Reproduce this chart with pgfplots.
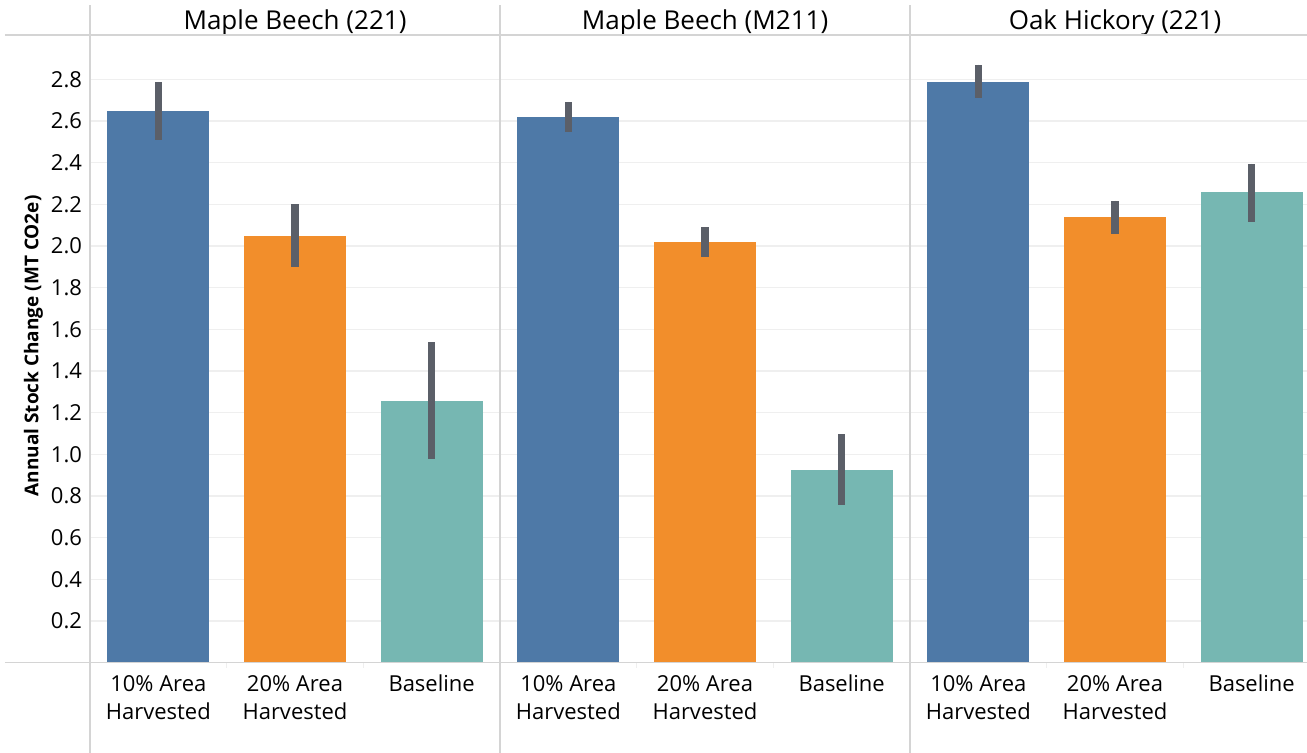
\documentclass[border=0pt]{standalone}
\usepackage{pgfplots}
\pgfplotsset{compat=1.18}
\usepackage{fontspec}
\setmainfont{Open Sans}
\definecolor{cblue}{HTML}{4E79A7}
\definecolor{corange}{HTML}{F28E2B}
\definecolor{cteal}{HTML}{76B7B2}
\definecolor{errgrey}{HTML}{5B5F68}
\definecolor{sepgrey}{HTML}{D4D4D4}
\definecolor{gridgrey}{HTML}{EFEFEF}
\pgfplotsset{
  panel/.style={
    scale only axis, width=205pt, height=313.85pt,
    ymin=0, ymax=3.013, xmin=-0.5, xmax=2.5,
    axis line style={draw=none},
    tick pos=left,
    major tick length=0pt,
    ytick={0.2,0.4,0.6,0.8,1.0,1.2,1.4,1.6,1.8,2.0,2.2,2.4,2.6,2.8},
    ymajorgrids, grid style={draw=gridgrey, line width=0.6pt},
    xtick={0,1,2},
    xticklabels={{10\% Area\\Harvested},{20\% Area\\Harvested},{Baseline}},
    xticklabel style={anchor=north, inner sep=0pt, yshift=-6pt, align=center, font=\fontsize{11}{14.3}\selectfont},
    yticklabel style={font=\fontsize{11}{13}\selectfont, xshift=-0.5pt},
    /pgf/number format/.cd, fixed, fixed zerofill, precision=1, assume math mode=true, /pgfplots/.cd,
    extra x ticks={0.5,1.5}, extra x tick labels={},
    extra x tick style={major tick length=2.5pt, tick align=outside, tick style={draw=gridgrey, line width=0.6pt}},
    every axis title/.style={anchor=base, at={(axis description cs:0.5,1)}, yshift=2.85pt, font=\fontsize{13}{15.5}\selectfont},
  },
  bar/.style={ybar, bar width=51pt, bar shift=0pt, draw=none, fill=#1,
    error bars/.cd, y dir=both, y explicit, error mark=none,
    error bar style={line width=3.8pt, draw=errgrey}},
}
\begin{document}
\begin{tikzpicture}
\useasboundingbox (-45pt,-45.15pt) rectangle (608.5pt,331.35pt);
\begin{axis}[panel, at={(0pt,0pt)}, anchor=south west,
  title={Maple Beech (221)},
  ylabel={Annual Stock Change (MT CO2e)},
  ylabel style={font=\bfseries\fontsize{9.5}{11}\selectfont, at={(axis description cs:-0.1261,0.5046)}, anchor=base}]
\addplot[bar=cblue] coordinates {(0,2.650) += (0,0.138) -= (0,0.142)};
\addplot[bar=corange] coordinates {(1,2.048) += (0,0.153) -= (0,0.147)};
\addplot[bar=cteal] coordinates {(2,1.258) += (0,0.280) -= (0,0.280)};
\end{axis}
\begin{axis}[panel, at={(205pt,0pt)}, anchor=south west,
  title={Maple Beech (M211)}, yticklabels={}]
\addplot[bar=cblue] coordinates {(0,2.617) += (0,0.075) -= (0,0.068)};
\addplot[bar=corange] coordinates {(1,2.020) += (0,0.070) -= (0,0.072)};
\addplot[bar=cteal] coordinates {(2,0.927) += (0,0.169) -= (0,0.170)};
\end{axis}
\begin{axis}[panel, at={(410pt,0pt)}, anchor=south west, width=198.5pt, xmax=2.405,
  title={Oak Hickory (221)}, title style={at={(axis description cs:0.5164,1)}}, yticklabels={}]
\addplot[bar=cblue] coordinates {(0,2.788) += (0,0.083) -= (0,0.078)};
\addplot[bar=corange] coordinates {(1,2.140) += (0,0.078) -= (0,0.082)};
\addplot[bar=cteal] coordinates {(2,2.260) += (0,0.136) -= (0,0.143)};
\end{axis}
\draw[sepgrey, line width=0.7pt] (-42.5pt,0pt) -- (608.5pt,0pt);
\draw[sepgrey, line width=0.7pt] (-42.5pt,313.85pt) -- (608.5pt,313.85pt);
\foreach \x in {0,205,410} \draw[sepgrey, line width=0.7pt] (\x pt,-45.15pt) -- (\x pt,328.85pt);
\end{tikzpicture}
\end{document}
